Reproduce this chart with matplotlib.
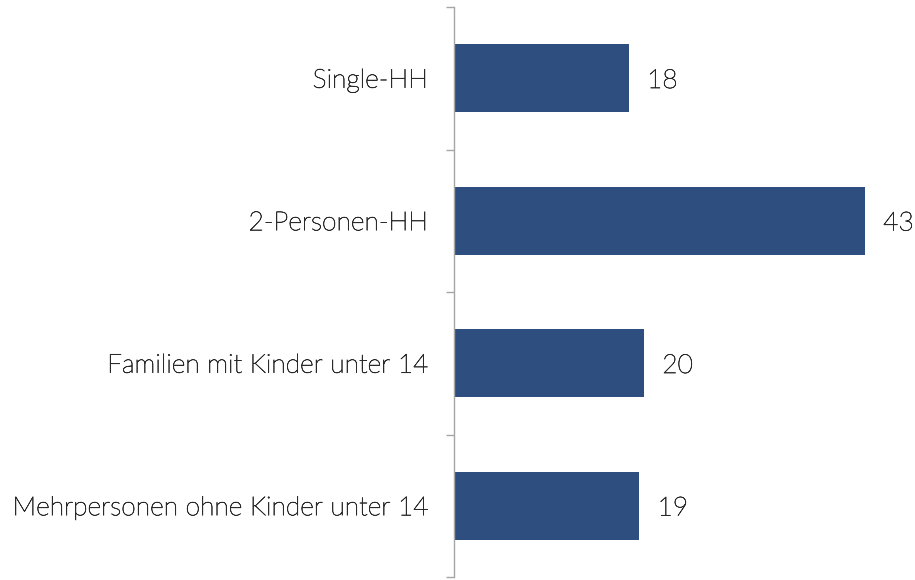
import matplotlib
matplotlib.use("Agg")
import matplotlib.pyplot as plt
import matplotlib.patheffects as pe
import numpy as np

categories = ["Single-HH", "2-Personen-HH", "Familien mit Kinder unter 14", "Mehrpersonen ohne Kinder unter 14"]
values = [18.3, 43.0, 19.9, 19.4]

plt.rcParams['font.family'] = ['Lato', 'DejaVu Sans']

fig = plt.figure(figsize=(9.15, 5.8), dpi=100)
ax = fig.add_axes([454/915, 1 - 577/580, (915 - 454)/915, 570/580])

n = len(categories)
y = np.arange(n)
ax.barh(y, values, height=0.48, color="#2E4E80", edgecolor="none")
ax.set_ylim(n - 0.5, -0.5)
ax.set_xlim(0, 461/9.56)

txtcol = "#2a2a2a"
fw = "light"
fx = [pe.withStroke(linewidth=0.45, foreground=txtcol)]
for yi, v in zip(y, values):
    ax.annotate(f"{v:.0f}", (v, yi), xytext=(13, -2), textcoords="offset points",
                va="center", ha="left", fontsize=19, color=txtcol, fontweight=fw,
                path_effects=fx)

ax.set_yticks(np.arange(-0.5, n + 0.5, 1.0))
ax.set_yticks(y, minor=True)
ax.set_yticklabels([])
ax.set_yticklabels(categories, minor=True, fontsize=19, color=txtcol, fontweight=fw)
for t in ax.get_yticklabels(minor=True):
    t.set_path_effects(fx)
ax.tick_params(axis="y", which="major", length=6, width=1, color="#A6A6A6", direction="out")
ax.tick_params(axis="y", which="minor", length=0, pad=19)
ax.set_xticks([])
for s in ["top", "right", "bottom"]:
    ax.spines[s].set_visible(False)
ax.spines["left"].set_color("#A6A6A6")
ax.spines["left"].set_linewidth(1)

fig.savefig("out.png", dpi=100)
